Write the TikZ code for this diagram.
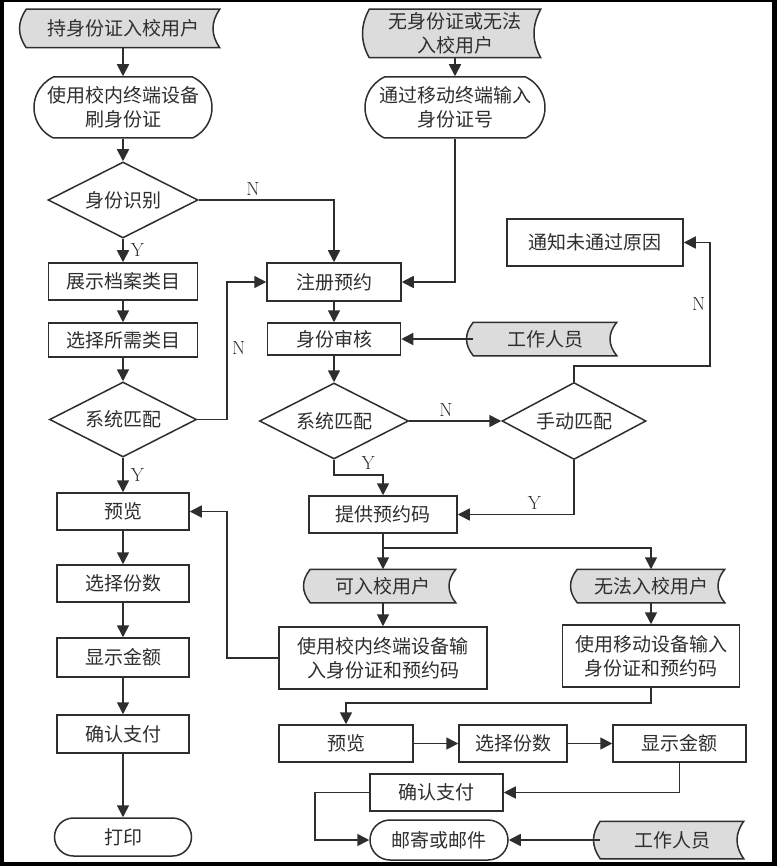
\documentclass[tikz,border=0pt]{standalone}
\usepackage{fontspec}
\usetikzlibrary{shapes.geometric,shapes.misc,arrows.meta,calc}
\newfontfamily\cjk{Noto Sans CJK SC}
\definecolor{ink}{HTML}{2E2E2E}
\definecolor{tapegray}{HTML}{DCDCDC}
\pgfdeclarelayer{background}
\pgfsetlayers{background,main}

% stored-data outline behind a tape node
\newcommand\tapebg[1]{%
  \path[draw=ink,line width=1.5pt,fill=tapegray]
    let \p1=(#1.north west), \p2=(#1.south east) in
    (\x1,\y1) -- (\x2,\y1)
    .. controls ({\x2-9pt},{(\y1+\y1+\y2)/3}) and ({\x2-9pt},{(\y1+\y2+\y2)/3}) .. (\x2,\y2)
    -- (\x1,\y2)
    .. controls ({\x1-9pt},{(\y1+\y2+\y2)/3}) and ({\x1-9pt},{(\y1+\y1+\y2)/3}) .. (\x1,\y1)
    -- cycle;}

\begin{document}
\begin{tikzpicture}[x=1pt,y=-1pt,
    sz/.style 2 args={minimum width=#1pt,minimum height=#2pt},
    box/.style={rectangle,draw=ink},
    pill/.style={rounded rectangle,draw=ink},
    choice/.style={diamond,aspect=2,draw=ink},
    tape/.style={rectangle},
    yn/.style={font=\fontsize{19}{22}\selectfont,text=ink,inner sep=4pt}]

  \useasboundingbox (0,0) rectangle (777,866);

  \begin{scope}[every node/.style={text=ink,font=\cjk\fontsize{19}{24}\selectfont,
      align=center,inner sep=0pt,line width=1.5pt}]
    % left column
    \node[tape,sz={192}{37}] (inA) at (123,28.5) {持身份证入校用户};
    \node[pill,rounded rectangle arc length=130,sz={178}{61}] (swipe) at (123,107.5) {使用校内终端设备\\刷身份证};
    \node[choice,sz={150}{76}] (idchk) at (123,200) {身份识别};
    \node[box,sz={149}{37}] (showcat) at (123,281.5) {展示档案类目};
    \node[box,sz={149}{34}] (pickcat) at (123,340) {选择所需类目};
    \node[choice,sz={147}{75}] (matchL) at (123,419.5) {系统匹配};
    \node[box,sz={132}{37}] (prevL) at (123,511.5) {预览};
    \node[box,sz={132}{37}] (copiesL) at (123,583.5) {选择份数};
    \node[box,sz={132}{39}] (priceL) at (123,657.5) {显示金额};
    \node[box,sz={132}{38}] (payL) at (123,734) {确认支付};
    \node[pill,sz={137}{38}] (print) at (123,837) {打印};

    % middle and right
    \node[tape,sz={170}{47}] (inB) at (455,33.5) {无身份证或无法\\入校用户};
    \node[pill,rounded rectangle arc length=130,sz={180}{61}] (mobileid) at (455,107.5) {通过移动终端输入\\身份证号};
    \node[box,sz={134}{38}] (register) at (334,282) {注册预约};
    \node[box,sz={133}{32}] (verify) at (334,339) {身份审核};
    \node[tape,sz={142}{32}] (staff1) at (545,339) {工作人员};
    \node[box,sz={176}{47}] (notify) at (595,242.5) {通知未通过原因};
    \node[choice,sz={149}{76}] (matchM) at (334,421) {系统匹配};
    \node[choice,sz={144}{77}] (manual) at (574,421) {手动匹配};
    \node[box,sz={148}{37}] (code) at (383,514.5) {提供预约码};
    \node[tape,sz={144}{32}] (okuser) at (383,586) {可入校用户};
    \node[tape,sz={146}{32}] (nouser) at (651,586) {无法入校用户};
    \node[box,sz={208}{62}] (inputA) at (383,658) {使用校内终端设备输\\入身份证和预约码};
    \node[box,sz={177}{62}] (inputB) at (651,656) {使用移动设备输入\\身份证和预约码};
    \node[box,sz={134}{37}] (prevR) at (346,743.5) {预览};
    \node[box,sz={108}{37}] (copiesR) at (513,743.5) {选择份数};
    \node[box,sz={133}{37}] (priceR) at (679.5,743.5) {显示金额};
    \node[box,sz={133}{37}] (payR) at (436.5,792.5) {确认支付};
    \node[pill,sz={138}{40}] (mail) at (439,840) {邮寄或邮件};
    \node[tape,sz={142}{36}] (staff2) at (672,840) {工作人员};
  \end{scope}

  \begin{scope}[draw=ink,line width=1.6pt,-{Triangle[length=12pt,width=12pt]},
      every node/.style={yn}]
    \draw (inA.south) -- (swipe.north);
    \draw (swipe.south) -- (idchk.north);
    \draw (idchk.south) -- node[right=3pt] (y1) {Y} (showcat.north);
    \draw (idchk.east) -| node[pos=.2,above] (n1) {N} (register.north);
    \draw (showcat.south) -- (pickcat.north);
    \draw (pickcat.south) -- (matchL.north);
    \draw (matchL.south) -- node[right=3pt] (y2) {Y} (prevL.north);
    \draw (matchL.east) -- ++(30,0) |- node[pos=.26,right] (n2) {N} (register.west);
    \draw (prevL.south) -- (copiesL.north);
    \draw (copiesL.south) -- (priceL.north);
    \draw (priceL.south) -- (payL.north);
    \draw (payL.south) -- (print.north);

    \draw (inB.south) -- (mobileid.north);
    \draw (mobileid.south) |- (register.east);
    \draw (register.south) -- (verify.north);
    \draw (staff1.west) -- (verify.east);
    \draw (verify.south) -- (matchM.north);
    \draw (matchM.east) -- node[pos=.4,above] (n3) {N} (manual.west);
    \draw (manual.north) -- ++(0,-16) -- ++(136,0) |- node[pos=.25,left] (n4) {N} (notify.east);
    \draw (matchM.south) -- ++(0,15) -| node[pos=.35,above] (y3) {Y} (code.north);
    \draw (manual.south) |- node[pos=.67,above] (y4) {Y} (code.east);
    \draw (code.south) -- (okuser.north);
    \draw (code.south) ++(0,14) -| (nouser.north);
    \draw (okuser.south) -- (inputA.north);
    \draw (nouser.south) -- (inputB.north);
    \draw (inputA.west) -- ++(-51,0) |- (prevL.east);
    \draw (inputB.south) -- ++(0,15) -| (prevR.north);
    \draw (prevR.east) -- (copiesR.west);
    \draw (copiesR.east) -- (priceR.west);
    \draw (priceR.south) |- (payR.east);
    \draw (payR.west) -- ++(-54,0) |- (mail.west);
    \draw (staff2.west) -- (mail.east);
  \end{scope}

  \begin{pgfonlayer}{background}
    \fill[black] (0,0) rectangle (777,866);
    \fill[white] (4,2) rectangle (772,862);
    \foreach \tname in {inA,inB,staff1,okuser,nouser,staff2} {\tapebg{\tname}}
  \end{pgfonlayer}
\end{tikzpicture}
\end{document}
